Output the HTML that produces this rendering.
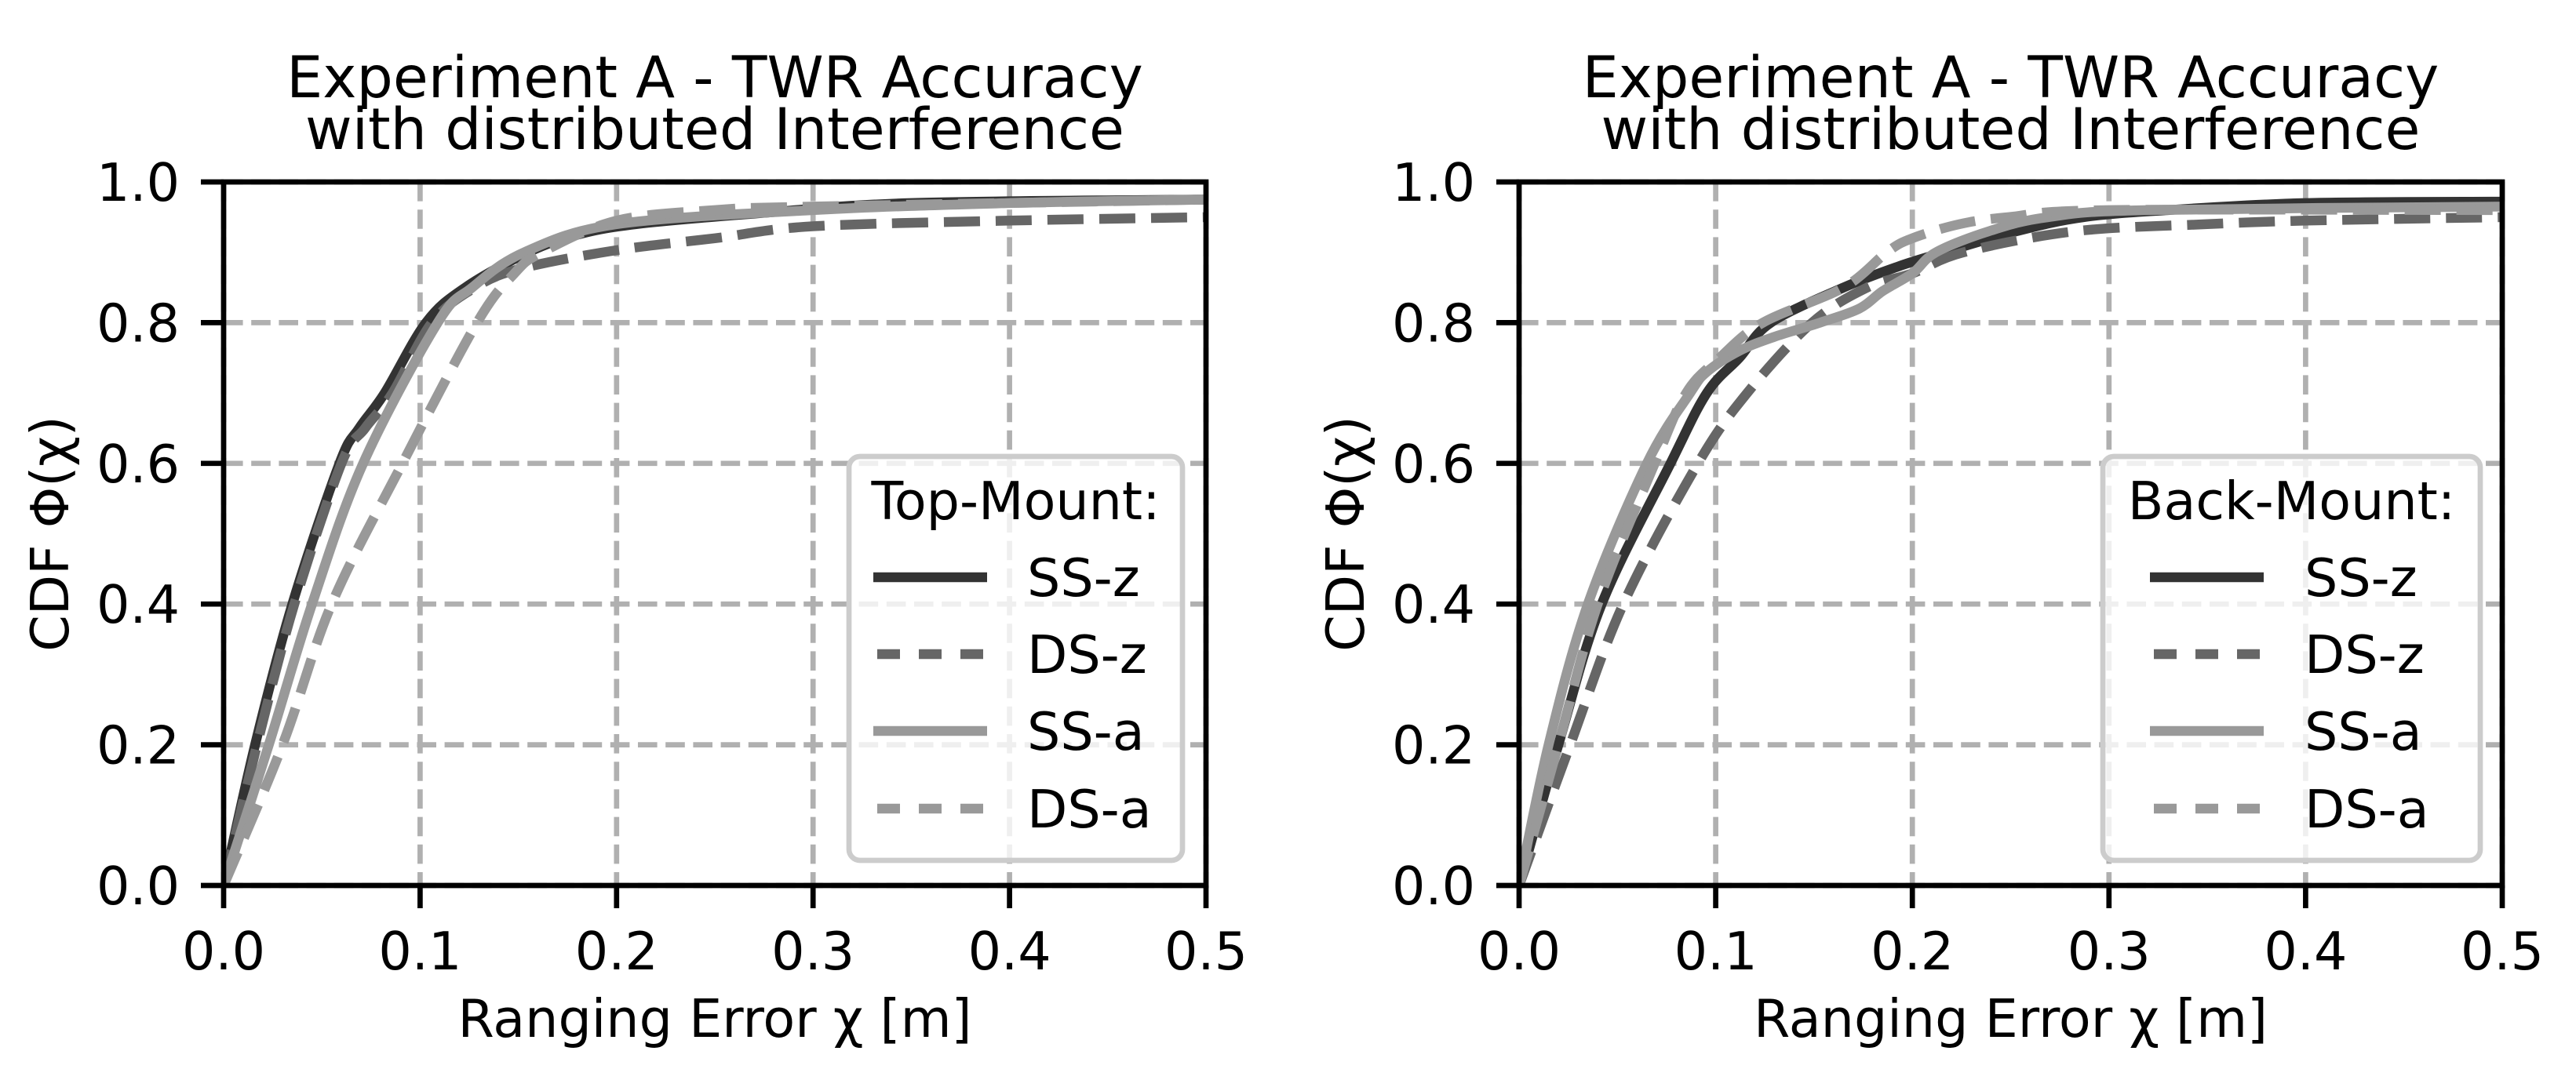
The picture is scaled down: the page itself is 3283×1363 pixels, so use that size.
<!DOCTYPE html>
<html><head><meta charset="utf-8"><title>Experiment A - TWR Accuracy</title>
<style>html,body{margin:0;padding:0;background:#fff;}svg{display:block;}text{font-family:"DejaVu Sans","Liberation Sans",sans-serif;fill:#000;}</style>
</head><body>
<svg id="fig" width="3283" height="1363" viewBox="0 0 3283 1363" xmlns="http://www.w3.org/2000/svg"></svg>
<script>
// ---- data ----
const xTicks = [0.0, 0.1, 0.2, 0.3, 0.4, 0.5];
const yTicks = [0.0, 0.2, 0.4, 0.6, 0.8, 1.0];
const seriesNames = ["SS-z", "DS-z", "SS-a", "DS-a"];
// Left panel (Top-Mount)
const topSSzX = [0, 0.016, 0.035, 0.059, 0.069, 0.082, 0.103, 0.123, 0.155, 0.180, 0.21, 0.27, 0.35, 0.5];
const topSSzY = [0, 0.2, 0.4, 0.6, 0.65, 0.7, 0.8, 0.85, 0.9, 0.925, 0.94, 0.955, 0.97, 0.975];
const topDSzX = [0, 0.017, 0.036, 0.060, 0.072, 0.086, 0.106, 0.128, 0.1515, 0.2, 0.25, 0.3, 0.4, 0.5];
const topDSzY = [0, 0.2, 0.4, 0.6, 0.65, 0.7, 0.8, 0.85, 0.877, 0.903, 0.92, 0.937, 0.945, 0.95];
const topSSaX = [0, 0.023, 0.045, 0.071, 0.109, 0.1265, 0.153, 0.2, 0.3, 0.4, 0.5];
const topSSaY = [0, 0.2, 0.4, 0.6, 0.8, 0.85, 0.9, 0.94, 0.96, 0.97, 0.975];
const topDSaX = [0, 0.030, 0.055, 0.091, 0.129, 0.148, 0.162, 0.2, 0.25, 0.3, 0.5];
const topDSaY = [0, 0.2, 0.4, 0.6, 0.8, 0.87, 0.9, 0.945, 0.96, 0.965, 0.975];
// Right panel (Back-Mount)
const backSSzX = [0, 0.020, 0.042, 0.077, 0.0955, 0.112, 0.128, 0.165, 0.193, 0.216, 0.253, 0.287, 0.33, 0.4, 0.5];
const backSSzY = [0, 0.2, 0.4, 0.6, 0.7, 0.75, 0.8, 0.85, 0.88, 0.9, 0.93, 0.95, 0.96, 0.97, 0.972];
const backDSzX = [0, 0.026, 0.053, 0.091, 0.116, 0.149, 0.177, 0.2, 0.226, 0.283, 0.35, 0.4, 0.5];
const backDSzY = [0, 0.2, 0.4, 0.6, 0.7, 0.8, 0.85, 0.87, 0.9, 0.93, 0.94, 0.945, 0.95];
const backSSaX = [0, 0.015, 0.035, 0.065, 0.087, 0.0955, 0.112, 0.130, 0.153, 0.173, 0.185, 0.2, 0.212, 0.239, 0.269, 0.32, 0.5];
const backSSaY = [0, 0.2, 0.4, 0.6, 0.7, 0.73, 0.76, 0.78, 0.8, 0.82, 0.845, 0.87, 0.9, 0.93, 0.95, 0.96, 0.965];
const backDSaX = [0, 0.020, 0.040, 0.069, 0.085, 0.102, 0.124, 0.165, 0.187, 0.2, 0.224, 0.249, 0.3, 0.5];
const backDSaY = [0, 0.2, 0.4, 0.6, 0.7, 0.75, 0.8, 0.85, 0.9, 0.92, 0.94, 0.95, 0.96, 0.96];

const NS = "http://www.w3.org/2000/svg";
const svg = document.getElementById("fig");
const FS = 66.7;
const TFS = 73;
function mk(tag, attrs, parent) {
  const e = document.createElementNS(NS, tag);
  for (const k in attrs) e.setAttribute(k, attrs[k]);
  (parent || svg).appendChild(e);
  return e;
}
const styles = [
  {color: "#333333", dash: null},
  {color: "#666666", dash: "46,20"},
  {color: "#999999", dash: null},
  {color: "#999999", dash: "46,20"}
];
function smoothPath(p) {
  let d = "M" + p[0][0].toFixed(1) + "," + p[0][1].toFixed(1);
  for (let i = 0; i < p.length - 1; i++) {
    const p0 = p[Math.max(0, i - 1)], p1 = p[i], p2 = p[i + 1], p3 = p[Math.min(p.length - 1, i + 2)];
    const c1x = p1[0] + (p2[0] - p0[0]) / 6, c1y = p1[1] + (p2[1] - p0[1]) / 6;
    const c2x = p2[0] - (p3[0] - p1[0]) / 6, c2y = p2[1] - (p3[1] - p1[1]) / 6;
    d += " C" + c1x.toFixed(1) + "," + c1y.toFixed(1) + " " + c2x.toFixed(1) + "," + c2y.toFixed(1) + " " + p2[0].toFixed(1) + "," + p2[1].toFixed(1);
  }
  return d;
}

function panel(px, py, pw, ph, key, legendTitle, data, legendBox) {
  const sx = v => px + v / 0.5 * pw;
  const sy = v => py + ph - v * ph;
  const g = mk("g", {});
  
  
  const grid = mk("g", {}, g);
  
  
  xTicks.forEach(t => {
    const l = mk("line", {x1: sx(t), x2: sx(t), y1: py, y2: py + ph, stroke: "#b0b0b0", "stroke-width": 6.7, "stroke-dasharray": "24.6,10.6"}, grid);
    
    
  });
  yTicks.forEach(t => {
    const l = mk("line", {x1: px, x2: px + pw, y1: sy(t), y2: sy(t), stroke: "#b0b0b0", "stroke-width": 6.7, "stroke-dasharray": "24.6,10.6"}, grid);
    
    
  });
  const cp = mk("clipPath", {id: key + "-clip"}, g);
  mk("rect", {x: px, y: py, width: pw, height: ph}, cp);
  data.forEach((d, i) => {
    const pts = d[0].map((x, j) => [sx(x), sy(d[1][j])]);
    const a = {d: smoothPath(pts), fill: "none", stroke: styles[i].color, "stroke-width": 12.5, "stroke-linejoin": "round", "clip-path": "url(#" + key + "-clip)"};
    if (styles[i].dash) a["stroke-dasharray"] = styles[i].dash;
    const pl = mk("path", a, g);
    
    
  });
  const sp = mk("rect", {x: px, y: py, width: pw, height: ph, fill: "none", stroke: "#000", "stroke-width": 6.7}, g);
  
  
  xTicks.forEach(t => {
    mk("line", {x1: sx(t), x2: sx(t), y1: py + ph, y2: py + ph + 29, stroke: "#000", "stroke-width": 6.7}, g);
    const tx = mk("text", {x: sx(t), y: py + ph + 107, "font-size": FS, "text-anchor": "middle"}, g);
    tx.textContent = t.toFixed(1);
    
    
  });
  yTicks.forEach(t => {
    mk("line", {x1: px - 29, x2: px, y1: sy(t), y2: sy(t), stroke: "#000", "stroke-width": 6.7}, g);
    const tx = mk("text", {x: px - 56, y: sy(t) + 24, "font-size": FS, "text-anchor": "end"}, g);
    tx.textContent = t.toFixed(1);
    
    
  });
  const cx = px + pw / 2;
  const t1 = mk("text", {x: cx, y: 124, "font-size": TFS, "text-anchor": "middle"}, g);
  t1.textContent = "Experiment A - TWR Accuracy";
  
  
  const t2 = mk("text", {x: cx, y: 190, "font-size": TFS, "text-anchor": "middle"}, g);
  t2.textContent = "with distributed Interference";
  
  
  const xl = mk("text", {x: cx, y: 1322, "font-size": FS, "text-anchor": "middle"}, g);
  xl.textContent = "Ranging Error \u03C7 [m]";
  
  
  const yx = px - 198, yy = py + ph / 2;
  const yl = mk("text", {x: yx, y: yy, "font-size": FS, "text-anchor": "middle", transform: "rotate(-90 " + yx + " " + yy + ")"}, g);
  yl.textContent = "CDF \u03A6(\u03C7)";
  
  
  const lg = mk("g", {}, g);
  
  
  const b = legendBox;
  mk("rect", {x: b.x, y: b.y, width: b.w, height: b.h, rx: 14, ry: 14, fill: "#fff", "fill-opacity": 0.8, stroke: "#cccccc", "stroke-width": 6.7}, lg);
  const lt = mk("text", {x: b.x + b.w / 2, y: b.y + 80, "font-size": FS, "text-anchor": "middle"}, lg);
  lt.textContent = legendTitle;
  
  
  const rows = [154, 252, 350, 449];
  seriesNames.forEach((n, i) => {
    const ly = b.y + rows[i];
    const a = {x1: b.lx, x2: b.lx + 145, y1: ly, y2: ly, stroke: styles[i].color, "stroke-width": 12.5};
    if (styles[i].dash) { a["stroke-dasharray"] = "29,24"; a.x1 = b.lx + 5; a.x2 = b.lx + 140; }
    const ln = mk("line", a, lg);
    
    
    const tx = mk("text", {x: b.tx, y: ly + 24, "font-size": FS}, lg);
    tx.textContent = n;
    
    
  });
}

panel(285, 232, 1252, 897, "top-mount", "Top-Mount:",
  [[topSSzX, topSSzY], [topDSzX, topDSzY], [topSSaX, topSSaY], [topDSaX, topDSaY]],
  {x: 1082, y: 582, w: 425, h: 515, lx: 1113, tx: 1309});
panel(1936, 232, 1253, 897, "back-mount", "Back-Mount:",
  [[backSSzX, backSSzY], [backDSzX, backDSzY], [backSSaX, backSSaY], [backDSaX, backDSaY]],
  {x: 2680, y: 582, w: 481, h: 515, lx: 2740, tx: 2937});
</script>
</body></html>
